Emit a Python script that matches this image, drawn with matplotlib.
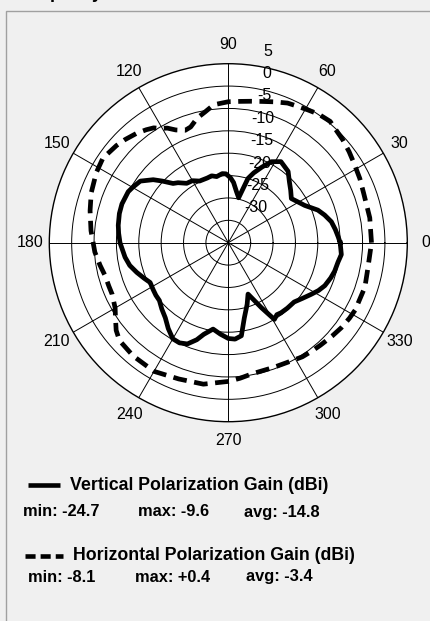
import numpy as np
import matplotlib
matplotlib.use("Agg")
import matplotlib.pyplot as plt
import matplotlib.transforms as mtransforms
from matplotlib.lines import Line2D
from matplotlib.patches import Rectangle

plt.rcParams['font.family'] = ['Liberation Sans', 'DejaVu Sans']

# Vertical polarization gain (dBi) vs azimuth (deg)
vert_deg = [0, 3, 7, 11.5, 16, 20, 26, 30, 35, 40, 45, 50, 57, 62, 66, 70, 73, 77, 81, 85,
            88, 92, 95, 100, 104, 108, 115, 120, 125, 130, 133, 137, 140, 145, 150, 153, 160,
            165, 171, 175, 180, 188, 193, 198, 203, 207, 212, 216, 220, 225, 230, 235, 240,
            244, 248, 252, 255, 260, 265, 270, 274, 278, 282, 287, 291, 294, 297, 301, 304,
            307, 312, 318, 323, 328, 332, 336, 341, 345, 350, 354, 360]
vert_gain = [-10.0, -10.4, -10.9, -11.5, -12.6, -13.7, -16.0, -16.9, -17.8, -16.8, -15.7, -14.2,
             -13.4, -14.5, -16.5, -18.4, -20.0, -24.7, -23.4, -21.5,
             -20.5, -19.6, -19.5, -20.0, -19.6, -19.8, -19.8, -19.0, -18.8, -17.5, -16.9, -14.8,
             -13.1, -11.0, -10.3, -9.9, -9.7,
             -9.8, -10.1, -10.4, -10.8, -11.7, -12.4, -13.5, -14.6, -15.4, -15.2, -15.0, -14.9,
             -14.0, -13.1, -11.6, -10.2,
             -10.1, -10.6, -12.2, -13.8, -15.4, -14.5, -13.6, -13.4, -14.0, -17.8, -20.6, -22.7,
             -21.0, -18.7, -15.0, -15.6,
             -15.4, -15.3, -15.2, -14.3, -13.2, -12.2, -11.4, -10.8, -10.4, -10.1, -9.6, -10.0]

# Horizontal polarization gain (dBi) vs azimuth (deg)
horz_deg = [0, 10, 20, 26, 32, 37, 42, 46, 50, 55, 59, 63, 67, 72, 77, 81, 85, 90, 96, 100,
            104, 108, 111, 115, 118, 121, 123, 126, 130, 135, 139, 146, 152, 160, 167, 175,
            180, 184, 190, 195, 200, 204, 210, 214, 218, 222, 230, 240, 250, 260, 270, 275,
            280, 290, 300, 303, 308, 312, 318, 323, 328, 332, 342, 350, 360]
horz_gain = [-3.0, -2.9, -2.8, -2.3, -1.8, -1.2, -0.6, -0.2, 0.4, 0.1, -0.4, -0.8, -1.1, -1.9,
             -2.6, -3.0, -3.3, -3.5, -4.0, -5.3,
             -6.3, -7.8, -8.1, -7.2, -6.0, -5.2, -4.4, -3.8, -3.1, -2.4, -1.9, -1.2, -1.6, -2.4,
             -3.3, -4.2,
             -4.8, -5.1, -5.9, -6.5, -6.6, -6.6, -5.8, -4.6, -3.2, -2.3, -1.95, -1.8, -2.6, -2.9,
             -4.0, -4.6,
             -5.2, -5.35, -4.9, -4.6, -4.4, -4.2, -3.8, -3.4, -3.1, -2.9, -2.9, -3.3, -3.0]

ring_vals = [-30, -25, -20, -15, -10, -5, 0]
rlabel_vals = [5, 0, -5, -10, -15, -20, -25, -30]
theta_ticks = list(range(0, 360, 30))

vert_lbl = "Vertical Polarization Gain (dBi)"
vert_stats = ["min: -24.7", "max: -9.6", "avg: -14.8"]
horz_lbl = "Horizontal Polarization Gain (dBi)"
horz_stats = ["min: -8.1", "max: +0.4", "avg: -3.4"]

W, H = 430, 621
fig = plt.figure(figsize=(W / 100, H / 100), dpi=100, facecolor='#f0f0f0')

def fx(px):
    return px / W

def fy(py):
    return 1 - py / H

# panel border (top and left edges visible)
fig.patches.append(Rectangle((fx(6), fy(640)), fx(440), (640 - 11) / H,
                             transform=fig.transFigure, fill=False, edgecolor='#a0a0a0',
                             lw=1.0, zorder=0))

# cut-off title at the very top
fig.text(fx(27), fy(-2), "Capacity", fontsize=13, fontweight='bold', va='baseline', ha='left')

cx, cy, R = 228.3, 242.7, 179
ax = fig.add_axes([fx(cx - R), fy(cy + R), 2 * R / W, 2 * R / H], projection='polar')
ax.set_facecolor('white')
ax.set_ylim(-35, 5)
ax.set_yticks(ring_vals)
ax.set_yticklabels([])
ax.set_xticks(np.deg2rad(theta_ticks))
ax.set_xticklabels([])
ax.tick_params(length=0)
ax.grid(True, color='black', lw=0.7)
ax.spines['polar'].set_linewidth(1.0)
ax.spines['polar'].set_color('black')

ax.plot(np.deg2rad(vert_deg), vert_gain, color='black', lw=3.4, solid_joinstyle='round', zorder=3)
ax.plot(np.deg2rad(horz_deg), horz_gain, color='black', lw=3.4, dashes=(2.9, 1.6),
        dash_capstyle='butt', zorder=3)

# angle labels
for t in theta_ticks:
    ax.text(np.deg2rad(t), 5 + 19.0 / (R / 40), str(t), fontsize=11.5, ha='center', va='center',
            clip_on=False)

# radial labels
for v in rlabel_vals:
    dx = 28 + (v + 30) * 0.34
    tr = mtransforms.offset_copy(ax.transData, fig=fig, x=dx / 100, y=12.5 / 100, units='inches')
    ax.text(np.pi / 2, v, str(v), transform=tr, fontsize=11.5, ha='center', va='center',
            clip_on=False, zorder=4)

# legend block
fig.add_artist(Line2D([fx(28), fx(60)], [fy(485), fy(485)], color='black', lw=3.3,
                      solid_capstyle='butt'))
fig.text(fx(70), fy(485), vert_lbl, fontsize=12.8, fontweight='bold', va='center')
for x0, s in zip([23, 138, 244], vert_stats):
    fig.text(fx(x0), fy(512), s, fontsize=11.8, fontweight='bold', va='center')

fig.add_artist(Line2D([fx(25), fx(63)], [fy(556), fy(556)], color='black', lw=3.3,
                      dashes=(2.2, 1.1), dash_capstyle='butt'))
fig.text(fx(73), fy(556), horz_lbl, fontsize=12.8, fontweight='bold', va='center')
for x0, s in zip([28, 135, 246], horz_stats):
    fig.text(fx(x0), fy(577), s, fontsize=11.8, fontweight='bold', va='center')

fig.savefig("out.png", dpi=100, facecolor=fig.get_facecolor())
